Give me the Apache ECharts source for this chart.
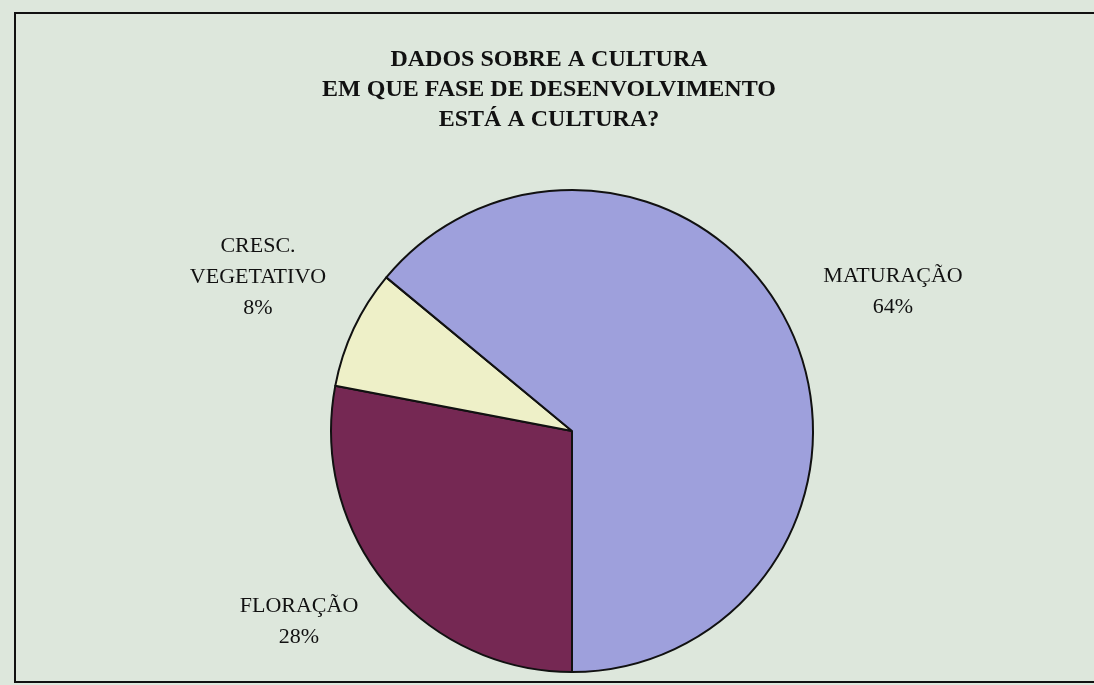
<!DOCTYPE html>
<html>
<head>
<meta charset="utf-8">
<script src="https://cdn.jsdelivr.net/npm/echarts@6/dist/echarts.min.js"></script>
<style>
html,body{margin:0;padding:0;background:#dde7dc;}
#chart{width:1094px;height:685px;}
</style>
</head>
<body>
<div id="chart"></div>
<script>
const titleLines = ["DADOS SOBRE A CULTURA", "EM QUE FASE DE DESENVOLVIMENTO", "ESTÁ A CULTURA?"];
const categories = ["FLORAÇÃO", "CRESC.\nVEGETATIVO", "MATURAÇÃO"];
const values = [28, 8, 64];
const colors = ["#752853", "#eef0c8", "#9ea0dc"];

const labelPos = [[299, 622], [258, 277], [893, 292]];
const serif = "'Liberation Serif', 'Times New Roman', serif";

const chart = echarts.init(document.getElementById('chart'));
chart.setOption({
  backgroundColor: '#dde7dc',
  animation: false,
  title: {
    text: titleLines.join('\n'),
    left: 544,
    top: 40,
    textAlign: 'center',
    textStyle: {
      fontFamily: serif,
      fontWeight: 'bold',
      fontSize: 24,
      lineHeight: 30,
      color: '#111'
    }
  },
  graphic: [{
    type: 'rect',
    shape: { x: 15, y: 13, width: 1100, height: 669 },
    style: { fill: 'none', stroke: '#111', lineWidth: 2 },
    silent: true
  }],
  series: [{
    type: 'pie',
    center: [572, 431],
    radius: 241,
    startAngle: -90,
    clockwise: true,
    data: categories.map((c, i) => ({
      name: c,
      value: values[i],
      itemStyle: { color: colors[i] }
    })),
    itemStyle: { borderColor: '#111', borderWidth: 2 },
    label: {
      show: true,
      position: 'outside',
      formatter: p => p.name + '\n' + Math.round(p.percent) + '%',
      fontFamily: serif,
      fontSize: 22,
      lineHeight: 31,
      color: '#111',
      align: 'center'
    },
    labelLine: { show: false },
    labelLayout: function (params) {
      const p = labelPos[params.dataIndex];
      return { x: p[0], y: p[1], align: 'center', verticalAlign: 'middle' };
    }
  }]
});
</script>
</body>
</html>
